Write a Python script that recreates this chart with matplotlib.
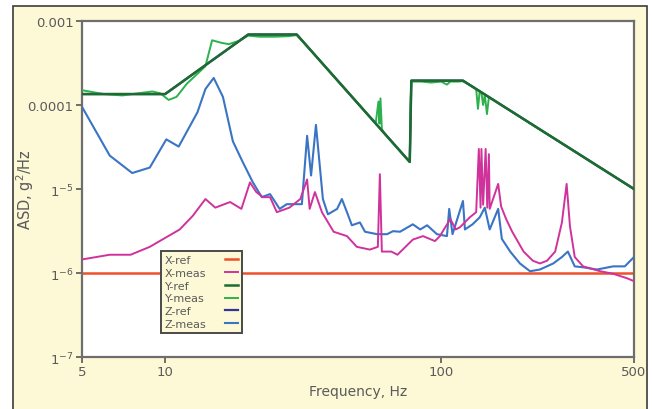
import matplotlib
matplotlib.use("Agg")
import matplotlib.pyplot as plt
import matplotlib.patches as patches

# reference profiles
xref_f = [5, 500]
xref_v = [1e-6, 1e-6]
yref_f = [5, 10, 20, 30, 77, 78, 120, 500]
yref_v = [1.35e-4, 1.35e-4, 6.9e-4, 6.9e-4, 2.1e-5, 1.95e-4, 1.95e-4, 1e-5]
zref_f = yref_f
zref_v = yref_v

xmeas_f = [5, 6.3, 7.5, 8.8, 11.3, 12.6, 14, 15.2, 17.2, 18.9, 20.3, 21.4, 22.6, 24,
           25.4, 28.2, 30.9, 32.7, 33.4, 34.9, 37, 40.8, 45.6, 49.5, 55.2, 59, 60, 61,
           66, 69.5, 79, 86, 95, 99, 108, 113, 117, 127, 134, 137, 139, 140, 142, 145,
           147, 149, 150, 161, 165, 172, 181, 199, 215, 228, 242, 259, 274, 285, 293,
           305, 327, 377, 420, 470, 500]
xmeas_v = [1.45e-6, 1.65e-6, 1.65e-6, 2.05e-6, 3.3e-6, 4.8e-6, 7.6e-6, 6e-6, 7e-6, 5.8e-6,
           1.2e-5, 9.2e-6, 8e-6, 8e-6, 5.3e-6, 6e-6, 7.6e-6, 1.3e-5, 5.8e-6, 9.2e-6,
           5.3e-6, 3.1e-6, 2.75e-6, 2.05e-6, 1.9e-6, 2.05e-6, 1.5e-5, 1.8e-6, 1.8e-6,
           1.65e-6, 2.5e-6, 2.75e-6, 2.4e-6, 2.75e-6, 4.4e-6, 3.3e-6, 3.5e-6, 4.6e-6,
           5.3e-6, 3e-5, 6e-6, 3e-5, 6.5e-6, 3e-5, 6e-6, 2.6e-5, 5.8e-6, 1.15e-5, 6.2e-6,
           4.4e-6, 3.1e-6, 1.8e-6, 1.4e-6, 1.3e-6, 1.4e-6, 1.8e-6, 4e-6, 1.15e-5, 3.6e-6,
           1.55e-6, 1.2e-6, 1.05e-6, 9.8e-7, 8.7e-7, 8e-7]

ymeas_f = [5, 6, 7, 8, 9, 9.6, 10.3, 11, 12, 13, 14, 14.8, 16, 17, 18.5, 20, 22, 25, 28,
           30, 33, 36, 40, 45, 50, 55, 58, 59.3, 59.8, 60.3, 61, 62, 66, 70, 74, 77,
           77.5, 78, 85, 92, 100, 105, 108, 115, 120, 126, 132, 134, 136, 138, 140,
           142, 144, 146.6, 149, 155, 165, 180, 200, 230, 260, 300, 350, 400, 450, 500]
ymeas_v = [1.5e-4, 1.35e-4, 1.3e-4, 1.38e-4, 1.45e-4, 1.38e-4, 1.15e-4, 1.25e-4, 1.8e-4,
           2.3e-4, 2.9e-4, 5.9e-4, 5.5e-4, 5.3e-4, 5.8e-4, 6.7e-4, 6.5e-4, 6.5e-4, 6.6e-4,
           6.8e-4, 4.85e-4, 3.5e-4, 2.37e-4, 1.53e-4, 1.04e-4, 7.3e-5, 6.2e-5, 1.1e-4,
           6e-5, 1.2e-4, 5.2e-5, 4.7e-5, 3.7e-5, 2.98e-5, 2.42e-5, 2.1e-5,
           1e-4, 1.9e-4, 1.9e-4, 1.85e-4, 1.9e-4, 1.75e-4, 1.9e-4, 1.9e-4, 1.92e-4,
           1.76e-4, 1.6e-4, 1.55e-4, 9e-5, 1.47e-4, 1.4e-4, 1.0e-4, 1.33e-4, 7.8e-5,
           1.24e-4, 1.15e-4, 1.0e-4, 8.4e-5, 6.7e-5, 5.0e-5, 3.9e-5, 2.9e-5, 2.1e-5,
           1.6e-5, 1.25e-5, 1e-5]

zmeas_f = [5, 6.3, 7.6, 8.8, 10.1, 11.2, 13.1, 14, 15, 16.2, 17.6, 19.1, 20.8, 22.4,
           24, 26, 27.6, 31.3, 32.7, 33.8, 35.2, 37.3, 38.9, 42, 43.7, 45.6, 47.5, 50.8,
           53, 58.6, 63.7, 67, 71, 79, 84, 89, 96.6, 105, 107, 110, 120, 122, 130, 138,
           144, 150, 161, 166, 178, 193, 210, 228, 255, 274, 288, 305, 327, 367, 420,
           463, 500]
zmeas_v = [9.5e-5, 2.5e-5, 1.55e-5, 1.8e-5, 3.9e-5, 3.2e-5, 8.2e-5, 1.55e-4, 2.1e-4,
           1.25e-4, 3.7e-5, 2.1e-5, 1.2e-5, 8e-6, 8.7e-6, 5.8e-6, 6.6e-6, 6.6e-6, 4.3e-5,
           1.45e-5, 5.8e-5, 7.6e-6, 5e-6, 5.8e-6, 7.6e-6, 5.3e-6, 3.7e-6, 4e-6, 3.1e-6,
           2.9e-6, 2.9e-6, 3.15e-6, 3.1e-6, 3.8e-6, 3.3e-6, 3.7e-6, 2.9e-6, 2.75e-6,
           5.8e-6, 2.9e-6, 7.2e-6, 3.3e-6, 3.8e-6, 4.6e-6, 6e-6, 3.3e-6, 5.8e-6, 2.55e-6,
           1.8e-6, 1.3e-6, 1.05e-6, 1.1e-6, 1.3e-6, 1.55e-6, 1.8e-6, 1.2e-6, 1.17e-6,
           1.1e-6, 1.2e-6, 1.2e-6, 1.55e-6]

xticks = [5, 10, 100, 500]
yticks = [1e-7, 1e-6, 1e-5, 1e-4, 1e-3]
ytick_labels = ["1$^{-7}$", "1$^{-6}$", "1$^{-5}$", "0.0001", "0.001"]

text_col = "#5a5a5a"
frame_col = "#6e6e6e"

fig = plt.figure(figsize=(6.52, 4.10), dpi=100)
fig.patch.set_facecolor("white")
fig.patches.append(patches.Rectangle((0.02, -0.02), 0.972, 1.003, transform=fig.transFigure,
                                     facecolor="#fdf8d6", edgecolor="#3c3c3c", linewidth=1.2,
                                     zorder=-10))

ax = fig.add_axes([0.1258, 0.1268, 0.8466, 0.8195])
ax.set_facecolor("white")

l_xref, = ax.plot(xref_f, xref_v, color="#f0502c", lw=1.8, label="X-ref", zorder=2)
l_zref, = ax.plot(zref_f, zref_v, color="#333399", lw=1.6, label="Z-ref", zorder=2)
l_ymeas, = ax.plot(ymeas_f, ymeas_v, color="#2db14e", lw=1.4, label="Y-meas", zorder=3)
l_yref, = ax.plot(yref_f, yref_v, color="#1d6b30", lw=1.8, label="Y-ref", zorder=4)
l_zmeas, = ax.plot(zmeas_f, zmeas_v, color="#3a74c4", lw=1.5, label="Z-meas", zorder=5)
l_xmeas, = ax.plot(xmeas_f, xmeas_v, color="#d0329c", lw=1.4, label="X-meas", zorder=6)

ax.set_xscale("log")
ax.set_yscale("log")
ax.set_xlim(5, 500)
ax.set_ylim(1e-7, 1e-3)
ax.set_xticks(xticks)
ax.set_xticklabels([str(t) for t in xticks])
ax.set_yticks(yticks)
ax.set_yticklabels(ytick_labels)
ax.minorticks_off()
ax.tick_params(axis="both", direction="out", length=4, width=1.4, color=frame_col,
               labelcolor=text_col, labelsize=9.5, pad=2)
for s in ax.spines.values():
    s.set_color(frame_col)
    s.set_linewidth(1.6)

ax.set_xlabel("Frequency, Hz", color=text_col, fontsize=10, labelpad=4)
ax.set_ylabel("ASD, g$^2$/Hz", color=text_col, fontsize=10.5)
ax.yaxis.set_label_coords(-0.084, 0.5)

leg = ax.legend(handles=[l_xref, l_xmeas, l_yref, l_ymeas, l_zref, l_zmeas],
                loc="upper left", bbox_to_anchor=(0.143, 0.315), markerfirst=False,
                fontsize=8, handlelength=1.2, handletextpad=1.6, labelspacing=0.25,
                borderpad=0.35, fancybox=False, framealpha=1, borderaxespad=0)
leg.get_frame().set_facecolor("#fdf8d6")
leg.get_frame().set_edgecolor("#4a4a4a")
leg.get_frame().set_linewidth(1.4)
for t in leg.get_texts():
    t.set_color(text_col)
leg.set_zorder(10)

# left-align legend labels, keep the line samples in a right-hand column
for col in leg._legend_handle_box.get_children():
    col.align = "left"
    for row in col.get_children():
        row.mode = "expand"
        row.width = 73

fig.savefig("out.png", dpi=100)
